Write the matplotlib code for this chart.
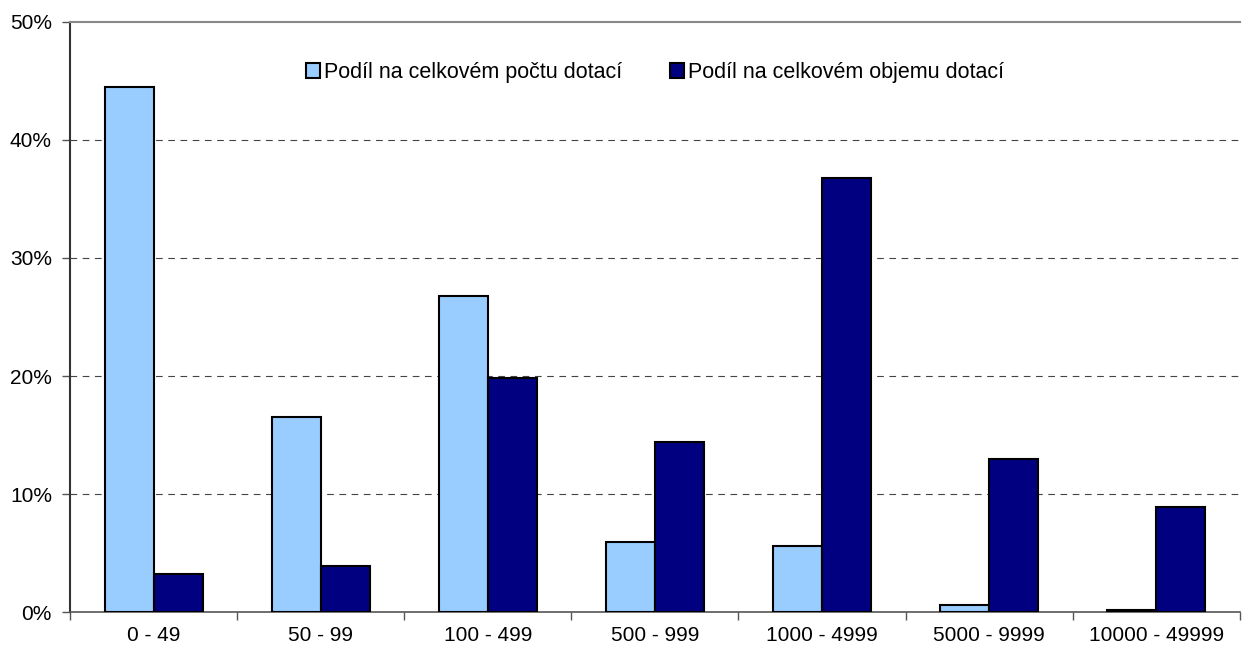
import numpy as np
import matplotlib
matplotlib.use("Agg")
import matplotlib.pyplot as plt
from matplotlib.ticker import FuncFormatter

categories = ["0 - 49", "50 - 99", "100 - 499", "500 - 999", "1000 - 4999", "5000 - 9999", "10000 - 49999"]
share_count = [44.5, 16.5, 26.8, 5.9, 5.6, 0.6, 0.2]
share_volume = [3.2, 3.9, 19.8, 14.4, 36.8, 13.0, 8.9]
labels = ["Podíl na celkovém počtu dotací", "Podíl na celkovém objemu dotací"]

plt.rcParams['font.family'] = ['Liberation Sans', 'DejaVu Sans']
plt.rcParams['font.size'] = 15

fig = plt.figure(figsize=(12.46, 6.52), dpi=100)
ax = fig.add_axes([0.0562, 0.0613, 0.9388, 0.905])

x = np.arange(len(categories))
w = 0.293
ax.bar(x - w / 2, share_count, w, color="#99ccff", edgecolor="black", linewidth=1.5, label=labels[0], zorder=3)
ax.bar(x + w / 2, share_volume, w, color="#000080", edgecolor="black", linewidth=1.5, label=labels[1], zorder=3)

ax.set_xlim(-0.5, len(categories) - 0.5)
ax.set_ylim(0, 50)
ax.set_yticks(range(0, 51, 10))
ax.yaxis.set_major_formatter(FuncFormatter(lambda v, p: "%d%%" % v))
for yv in range(10, 50, 10):
    ax.axhline(yv, color="#444444", linestyle=(0, (6, 5)), linewidth=0.8, zorder=1)

ax.set_xticks(x)
ax.set_xticklabels(categories)
ax.set_xticks(np.arange(-0.5, len(categories)), minor=True)
ax.tick_params(axis="x", which="major", length=0, pad=10)
ax.tick_params(axis="x", which="minor", length=6, width=1, color="#555555", direction="out")
ax.tick_params(axis="y", length=6, width=1, color="#555555", direction="out", pad=7)

ax.spines["right"].set_visible(False)
ax.spines["top"].set_color("#888888")
ax.spines["top"].set_linewidth(1.5)
ax.spines["left"].set_color("#333333")
ax.spines["left"].set_linewidth(1.5)
ax.spines["bottom"].set_color("#555555")
ax.spines["bottom"].set_linewidth(1.2)

ax.legend(loc="upper center", bbox_to_anchor=(0.5, 0.965), ncol=2, frameon=False,
          handlelength=0.65, handleheight=0.65, handletextpad=0.2, columnspacing=2.2, fontsize=15.5)

fig.savefig("out.png", dpi=100)
